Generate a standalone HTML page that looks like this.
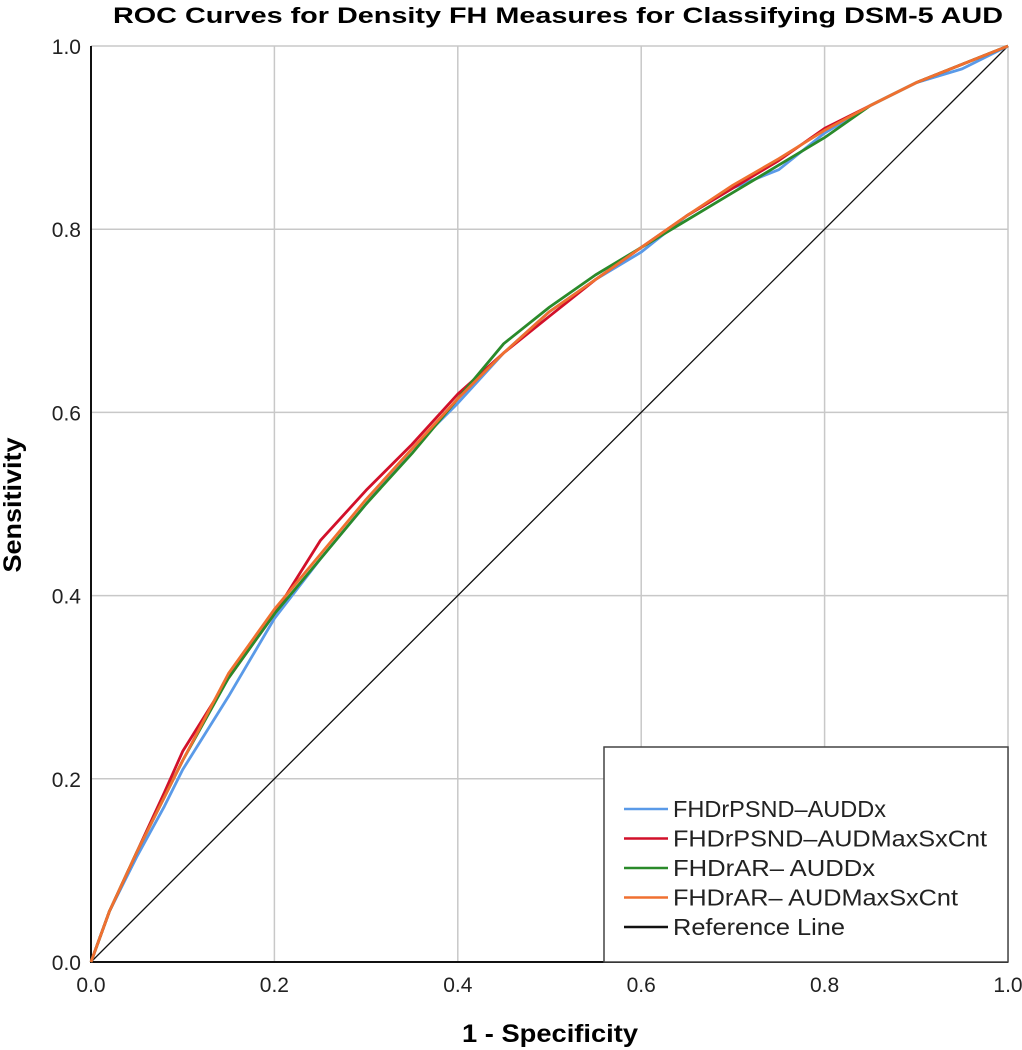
<!DOCTYPE html>
<html><head><meta charset="utf-8"><style>
body{margin:0;background:#fff;}
svg{display:block;font-family:"Liberation Sans",sans-serif;}
</style></head><body>
<svg id="chart" width="1022" height="1050">
<text x="558" y="23" text-anchor="middle" font-size="22" font-weight="bold" textLength="890" lengthAdjust="spacingAndGlyphs">ROC Curves for Density FH Measures for Classifying DSM-5 AUD</text>
<g id="grid"></g>
<g id="axes"></g>
<g id="series"></g>
<text x="550" y="1042" text-anchor="middle" font-size="25" font-weight="bold" textLength="176" lengthAdjust="spacingAndGlyphs">1 - Specificity</text>
<text transform="translate(21,505) rotate(-90)" text-anchor="middle" font-size="25" font-weight="bold" textLength="135" lengthAdjust="spacingAndGlyphs">Sensitivity</text>
<g>
<rect x="604" y="747" width="404" height="215" fill="#fff" stroke="#444" stroke-width="1.5"/>
<g id="legend-items"></g>
</g>
</svg>
<script>
const xVals=[0,0.02,0.05,0.08,0.1,0.15,0.2,0.25,0.3,0.35,0.4,0.45,0.5,0.55,0.6,0.65,0.7,0.75,0.8,0.85,0.9,0.95,1];
const blueY=[0,0.055,0.115,0.17,0.21,0.29,0.375,0.44,0.5,0.56,0.61,0.665,0.71,0.745,0.775,0.815,0.845,0.865,0.905,0.935,0.96,0.975,1];
const redY=[0,0.055,0.12,0.185,0.23,0.31,0.38,0.46,0.515,0.565,0.62,0.665,0.705,0.745,0.78,0.815,0.845,0.875,0.91,0.935,0.96,0.98,1];
const greenY=[0,0.055,0.12,0.18,0.22,0.31,0.38,0.44,0.5,0.555,0.615,0.675,0.715,0.75,0.78,0.81,0.84,0.87,0.9,0.935,0.96,0.98,1];
const orangeY=[0,0.055,0.12,0.18,0.22,0.315,0.385,0.445,0.505,0.56,0.615,0.665,0.71,0.745,0.78,0.815,0.848,0.877,0.908,0.935,0.96,0.98,1];
const ticks=[0,0.2,0.4,0.6,0.8,1.0];
const tickLabels=["0.0","0.2","0.4","0.6","0.8","1.0"];
const legendLabels=["FHDrPSND\u2013AUDDx","FHDrPSND\u2013AUDMaxSxCnt","FHDrAR\u2013 AUDDx","FHDrAR\u2013 AUDMaxSxCnt","Reference Line"];
const legendWidths=[213,314,202,285,172];
const colors=["#5a9ae8","#d2102a","#2a8a2a","#f07030","#111"];
const NS="http://www.w3.org/2000/svg";
const X=v=>91+v*917, Y=v=>962-v*916;
function mk(t,a,p){const e=document.createElementNS(NS,t);for(const k in a)e.setAttribute(k,a[k]);p.appendChild(e);return e;}
const grid=document.getElementById('grid'),axes=document.getElementById('axes'),ser=document.getElementById('series');
ticks.forEach((t,i)=>{
 if(t>0){const g=mk('line',{x1:X(t),x2:X(t),y1:Y(0),y2:Y(1),stroke:'#c8c8c8','stroke-width':1.5},grid);
 
 const h=mk('line',{x1:X(0),x2:X(1),y1:Y(t),y2:Y(t),stroke:'#c8c8c8','stroke-width':1.5},grid);
 }
 const tx=mk('text',{x:X(t),y:992,'text-anchor':'middle','font-size':21,fill:'#222'},axes);tx.textContent=tickLabels[i];
 
 const ty=mk('text',{x:81,y:Y(t)+8,'text-anchor':'end','font-size':21,fill:'#222'},axes);ty.textContent=tickLabels[i];
 
});
const ax=mk('path',{d:`M${X(0)} ${Y(1)}V${Y(0)}H${X(1)}`,fill:'none',stroke:'#111','stroke-width':2},axes);

const ref=mk('line',{x1:X(0),y1:Y(0),x2:X(1),y2:Y(1),stroke:'#111','stroke-width':1.3},ser);

const all=[blueY,redY,greenY,orangeY],names=['series-blue','series-red','series-green','series-orange'];
all.forEach((ys,s)=>{const d=xVals.map((x,i)=>(i?'L':'M')+X(x).toFixed(1)+' '+Y(ys[i]).toFixed(1)).join('');
 const p=mk('path',{d,fill:'none',stroke:colors[s],'stroke-width':2.8,'stroke-linejoin':'round'},ser);
 });
const li=document.getElementById('legend-items');
legendLabels.forEach((l,i)=>{const y=809+i*29.5;
 const ln=mk('line',{x1:624,x2:668,y1:y,y2:y,stroke:colors[i],'stroke-width':2.5},li);
 
 const t=mk('text',{x:673,y:y+8,'font-size':23,fill:'#222',textLength:legendWidths[i],lengthAdjust:'spacingAndGlyphs'},li);t.textContent=l;
 });
</script>
</body></html>
